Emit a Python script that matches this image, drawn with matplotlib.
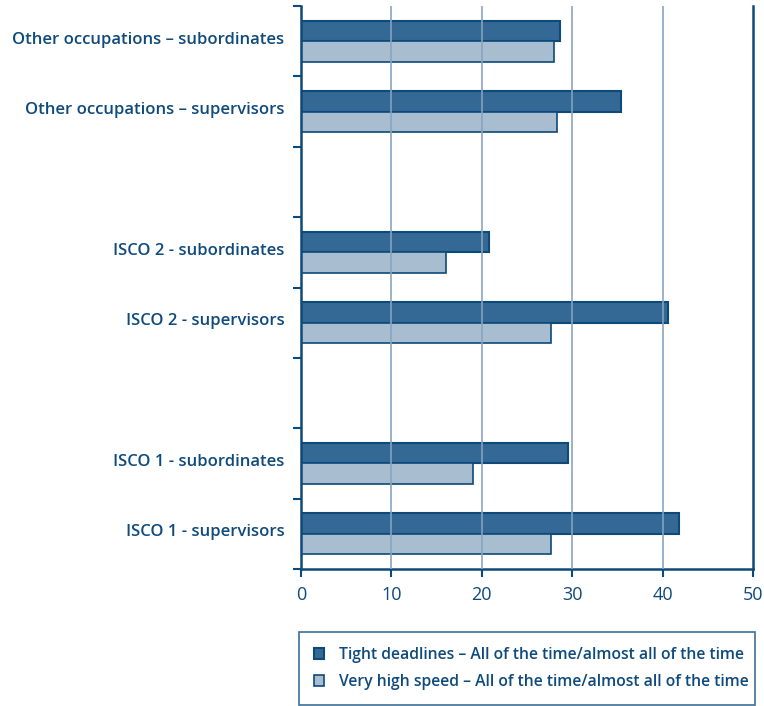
import matplotlib
matplotlib.use("Agg")
import matplotlib.pyplot as plt
import numpy as np

categories = ["Other occupations – subordinates", "Other occupations – supervisors", "",
              "ISCO 2 - subordinates", "ISCO 2 - supervisors", "",
              "ISCO 1 - subordinates", "ISCO 1 - supervisors"]
tight_deadlines = [28.6, 35.4, None, 20.8, 40.6, None, 29.5, 41.8]
high_speed = [28.0, 28.3, None, 16.0, 27.7, None, 19.0, 27.7]
series_names = ["Tight deadlines – All of the time/almost all of the time",
                "Very high speed – All of the time/almost all of the time"]
xticks = [0, 10, 20, 30, 40, 50]

TXT = "#0f4a7c"
DARK = "#346996"
LIGHT = "#a8bdd0"
EDGE = "#0d4a7a"
GRID = "#86a4c0"

plt.rcParams['font.family'] = ['Open Sans', 'DejaVu Sans']

fig = plt.figure(figsize=(7.64, 7.06), dpi=100)
ax = fig.add_axes([301/764, 137/706, 452/764, 563/706])

h = 0.29
pos = np.arange(len(categories))
for i, (d, l) in enumerate(zip(tight_deadlines, high_speed)):
    if d is not None:
        ax.barh(i - h/2, d, height=h, color=DARK, edgecolor=EDGE, linewidth=1.5, zorder=2,
                label=series_names[0] if i == 0 else None)
    if l is not None:
        ax.barh(i + h/2, l, height=h, color=LIGHT, edgecolor=EDGE, linewidth=1.2, zorder=2,
                label=series_names[1] if i == 0 else None)

ax.set_xlim(0, 50)
ax.set_ylim(len(categories) - 0.5, -0.5)
ax.set_xticks(xticks)
ax.set_xticklabels([str(x) for x in xticks], fontsize=13, color=TXT)
ax.set_yticks(np.arange(-0.5, len(categories), 1.0))
ax.set_yticklabels([])
ax.set_yticks(pos - 0.05, minor=True)
ax.set_yticklabels(categories, minor=True, fontsize=12, fontweight='semibold', color=TXT)
ax.tick_params(axis='y', which='minor', length=0, pad=12)
ax.tick_params(axis='y', which='major', length=6, width=1.5, color=EDGE)
ax.tick_params(axis='x', length=6, width=1.5, color=EDGE, pad=6)

for x in xticks[1:-1]:
    ax.axvline(x, color=GRID, linewidth=1.3, zorder=3, alpha=0.9)

for s in ['left', 'right', 'bottom']:
    ax.spines[s].set_color(EDGE)
    ax.spines[s].set_linewidth(1.8)
ax.spines['top'].set_visible(False)

leg = fig.legend(loc='lower left', bbox_to_anchor=(299/764, 1/706, 456/764, 76/706),
                 mode='expand', borderaxespad=0, frameon=True, fancybox=False, edgecolor=EDGE,
                 handlelength=0.65, handleheight=0.65, handletextpad=0.95,
                 labelspacing=0.7, borderpad=0.95, prop={'weight': 'semibold', 'size': 11.3})
leg.get_frame().set_linewidth(1.2)
for t in leg.get_texts():
    t.set_color(TXT)

fig.savefig("out.png", dpi=100)
